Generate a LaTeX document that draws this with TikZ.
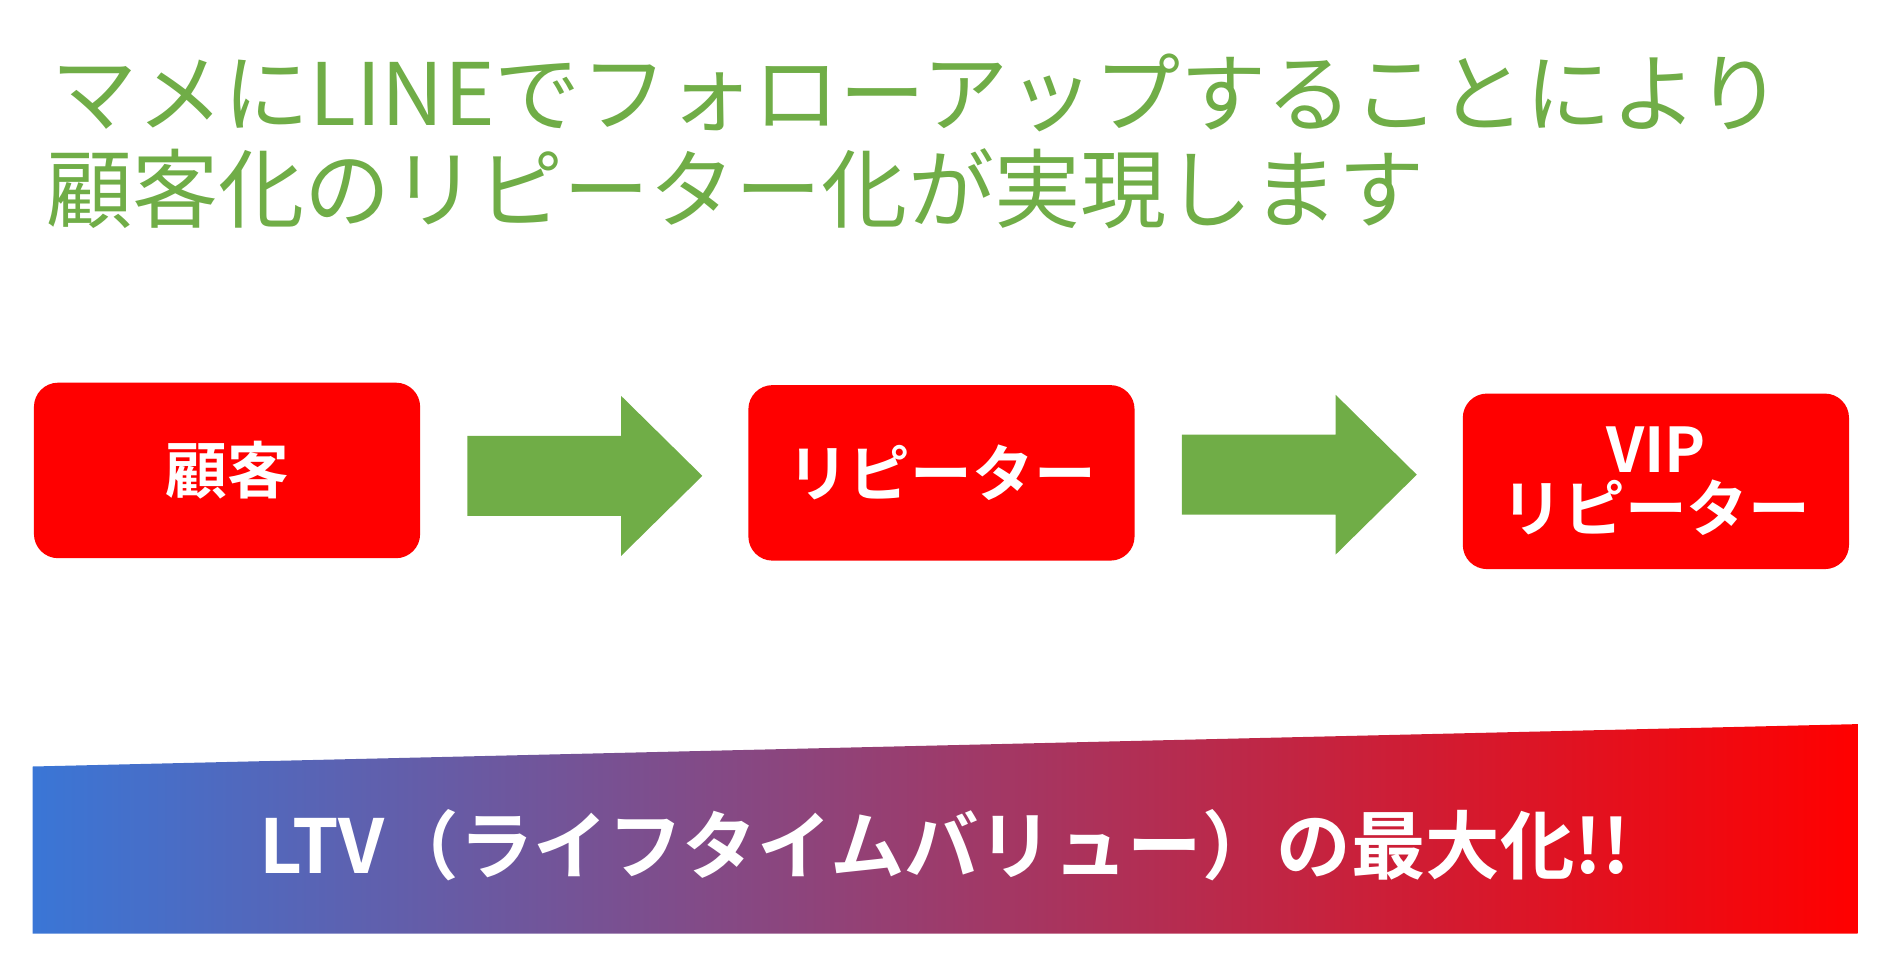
\documentclass[tikz,border=0pt]{standalone}
\usepackage{fontspec}
\newfontfamily\jp{Noto Sans CJK JP}[BoldFont={Noto Sans CJK JP Bold}]
\definecolor{tgreen}{RGB}{112,173,71}
\definecolor{bred}{RGB}{255,0,0}
\definecolor{gblue}{RGB}{58,118,214}
\definecolor{gmid}{RGB}{100,66,135}
\begin{document}
\begin{tikzpicture}[x=0.02cm,y=-0.02cm,
  box/.style={draw=none,fill=bred,rounded corners=0.4cm,minimum width=6.38cm,minimum height=2.9cm,text=white,font=\jp\bfseries\fontsize{29}{34}\selectfont,align=center},
  bigarrow/.style={fill=tgreen,draw=none}]
\useasboundingbox (0,0) rectangle (1560,795);
\node[anchor=west,text=tgreen,font=\jp\fontsize{40.5}{46}\selectfont,inner sep=0] (t1) at (42,77) {マメにLINEでフォローアップすることにより};
\node[anchor=west,text=tgreen,font=\jp\fontsize{40.5}{46}\selectfont,inner sep=0] (t2) at (38,156) {顧客化のリピーター化が実現します};
\node[box] (b1) at (187.5,388.5) {顧客};
\node[box] (b2) at (777.5,390.5) {リピーター};
\node[box] (b3) at (1367.5,397.5) {VIP\\[-6pt]リピーター};
\fill[bigarrow] (386,360) -- (513,360) -- (513,327) -- (580,393) -- (513,459) -- (513,426) -- (386,426) -- cycle;
\fill[bigarrow] (976,359) -- (1103,359) -- (1103,326) -- (1170,392) -- (1103,458) -- (1103,425) -- (976,425) -- cycle;
\shade[left color=gblue,middle color=gmid,right color=bred] (27,633) -- (1534,598) -- (1534,771) -- (27,771) -- cycle;
\node[text=white,font=\jp\bfseries\fontsize{35}{40}\selectfont] (ltv) at (780,698) {LTV（ライフタイムバリュー）の最大化!!};
\end{tikzpicture}
\end{document}
